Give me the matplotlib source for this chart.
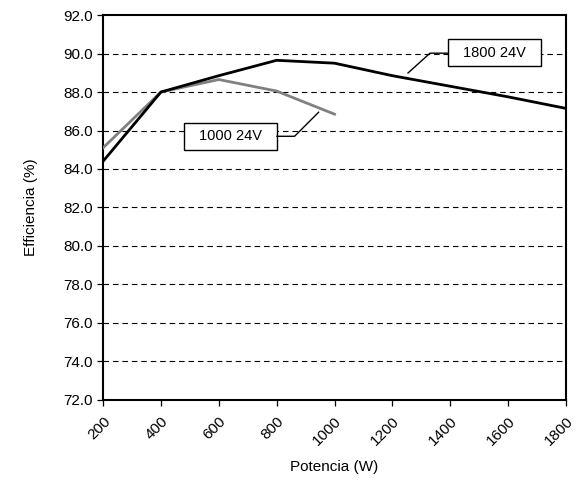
import numpy as np
import matplotlib.pyplot as plt
from matplotlib.patches import Rectangle

plt.rcParams['font.family'] = ['Liberation Sans', 'DejaVu Sans']

# 1800 24V
pot_1800 = [200, 400, 600, 800, 1000, 1200, 1400, 1600, 1800]
ef_1800 = [84.4, 88.0, 88.85, 89.65, 89.5, 88.85, 88.3, 87.75, 87.15]

# 1000 24V
pot_1000 = [200, 400, 600, 800, 1000]
ef_1000 = [85.1, 88.0, 88.65, 88.05, 86.85]

x_ticks = np.arange(200, 1801, 200)
y_ticks = np.arange(72, 92.1, 2)

fig = plt.figure(figsize=(5.79, 4.87), dpi=100)
ax = fig.add_axes([0.178, 0.179, 0.7995, 0.79])

for y in y_ticks[1:-1]:
    ax.axhline(y, color='black', lw=0.8, ls=(0, (5, 3.5)), zorder=1)

ax.plot(pot_1000, ef_1000, color='#808080', lw=2.0, zorder=3)
ax.plot(pot_1800, ef_1800, color='black', lw=2.0, zorder=4)

# etiquetas con recuadro y linea guia
def etiqueta(texto, x0, x1, y0, y1, guia_x, guia_y):
    ax.add_patch(Rectangle((x0, y0), x1 - x0, y1 - y0, fc='white', ec='black',
                           lw=1.0, zorder=5))
    ax.text((x0 + x1) / 2, (y0 + y1) / 2, texto, ha='center', va='center',
            fontsize=10.5, zorder=6)
    ax.plot(guia_x, guia_y, color='black', lw=1.0, zorder=5)

etiqueta('1000 24V', 480, 801, 84.99, 86.39, [801, 862, 945], [85.7, 85.7, 86.95])
etiqueta('1800 24V', 1392, 1713, 89.35, 90.75, [1392, 1330, 1254], [90.02, 90.02, 88.99])

ax.set_xlim(200, 1800)
ax.set_ylim(72, 92)
ax.set_xticks(x_ticks)
ax.set_yticks(y_ticks)
ax.set_yticklabels([f'{v:.1f}' for v in y_ticks], fontsize=11)
ax.set_xticklabels([str(v) for v in x_ticks], rotation=45, ha='right',
                   rotation_mode='anchor', fontsize=11)
ax.tick_params(direction='out', length=4, width=0.9)
ax.tick_params(axis='x', pad=6)
for s in ax.spines.values():
    s.set_linewidth(1.5)

ax.set_xlabel('Potencia (W)', fontsize=11, labelpad=9)
ax.set_ylabel('Efficiencia (%)', fontsize=11, labelpad=18)

fig.savefig('out.png', dpi=100)
